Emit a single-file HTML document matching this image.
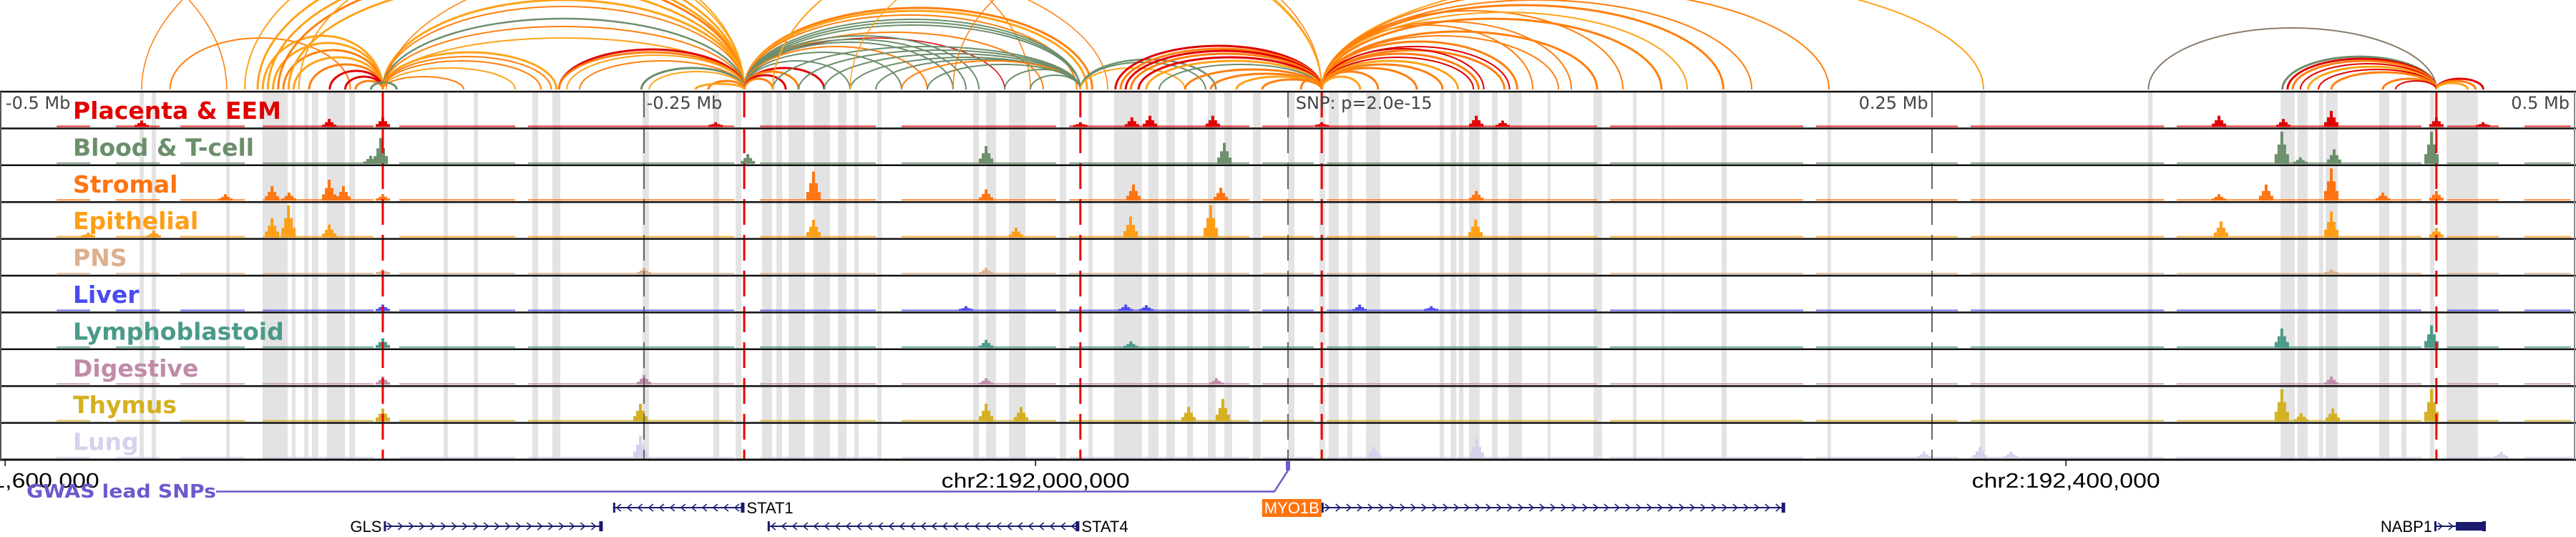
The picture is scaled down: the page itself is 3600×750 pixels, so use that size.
<!DOCTYPE html>
<html><head><meta charset="utf-8">
<style>
html,body{margin:0;padding:0;background:#fff;}
svg{display:block;}
</style></head>
<body>
<svg id="chart" width="3600" height="750" viewBox="0 0 3600 750" xmlns="http://www.w3.org/2000/svg">
<defs><clipPath id="arcClip"><rect x="0" y="0" width="3600" height="126"/></clipPath></defs>
<g id="arcs" clip-path="url(#arcClip)"></g>
<g id="bands"></g>
<g id="tracks"></g>
<g id="markers"></g>
<g id="frame"></g>
<g id="toplabels"></g>
<g id="bottom"></g>
<g id="genes"></g>
</svg>
<script>
// ---- data (kb relative to lead SNP) ----
const trackNames = ["Placenta & EEM","Blood & T-cell","Stromal","Epithelial","PNS","Liver","Lymphoblastoid","Digestive","Thymus","Lung"];
const trackColors = ["#e00000","#6b8e6b","#ff7410","#ff9e14","#dcb08e","#4b4bef","#4a9a8a","#c08ba8","#d4b020","#d8d0ec"];
const peaksPlacenta = [[-445,.2],[-372.2,.25],[-351.4,.3],[-222.2,.15],[-80.6,.15],[-60.6,.3],[-53.6,.35],[-29.2,.35],[13.1,.15],[73.1,.35],[83.3,.2],[361.4,.35],[386.4,.25],[405,.5],[445.8,.3],[463.9,.15]];
const peaksBlood = [[-356.1,.25],[-352.2,.8],[-209.7,.3],[-117.2,.55],[-24.7,.65],[385.8,1.0],[393,.2],[406.1,.45],[443.9,1.0]];
const peaksStromal = [[-412.5,.2],[-394.4,.45],[-387.8,.25],[-372.2,.65],[-366.7,.45],[-351.4,.2],[-184.2,.9],[-117.2,.35],[-60,.5],[-26.1,.4],[73.1,.3],[361.4,.2],[379.7,.5],[405,1.0],[425,.25],[445.8,.3]];
const peaksEpithelial = [[-465.8,.15],[-440.3,.2],[-394.4,.6],[-388,1.0],[-372.2,.4],[-184.2,.55],[-105.6,.3],[-61.1,.65],[-30,1.0],[72.8,.55],[362.2,.5],[405,.8],[445.8,.3]];
const peaksPNS = [[-351.4,.15],[-250,.2],[-117.2,.2],[405,.15]];
const peaksLiver = [[-351.4,.2],[-125,.15],[-63,.2],[-55,.18],[27.8,.2],[55.6,.15]];
const peaksLympho = [[-351.4,.3],[-117.2,.25],[-61,.2],[385.8,.6],[443.9,.7]];
const peaksDigestive = [[-351.4,.25],[-250,.3],[-117.2,.2],[-27.8,.2],[405,.25]];
const peaksThymus = [[-351.4,.4],[-251.4,.55],[-117.2,.55],[-103.6,.45],[-38.6,.45],[-25.3,.7],[385.8,1.0],[393.3,.25],[405.6,.4],[443.9,1.0]];
const peaksLung = [[-251.4,.7],[33.3,.35],[73.3,.6],[247,.2],[268.6,.35],[280.6,.2],[471,.2]];
const baseSegs = [[-478,-465],[-455,-438],[-430,-405],[-398,-355],[-345,-300],[-295,-215],[-205,-160],[-150,-90],[-85,-15],[-10,10],[15,120],[125,200],[205,260],[265,340],[345,440],[450,470],[480,498]];
const bandKb = [[-445.8,-444.2],[-441.1,-439.4],[-412.2,-410.8],[-398.1,-388.3],[-386.7,-385.3],[-381.9,-380.3],[-378.9,-376.4],[-373.1,-366.1],[-364.4,-362.2],[-327.8,-326.1],[-316.1,-314.4],[-293.3,-291.1],[-285.6,-282.5],[-250.6,-248.1],[-223.1,-220.8],[-214.4,-212.2],[-204.2,-200.3],[-198.6,-196.4],[-193.9,-187.5],[-184.2,-177.8],[-174.7,-171.4],[-168.3,-166.7],[-159.4,-157.8],[-122.2,-120],[-117.2,-113.3],[-108.3,-101.9],[-88.6,-86.1],[-77.5,-75.8],[-67.5,-56.7],[-54.2,-50.3],[-47.2,-43.9],[-39.2,-36.9],[-31.1,-28.1],[-24.7,-21.7],[-13.6,-10.6],[0,2.5],[12.2,14.4],[15.8,19.7],[23.1,25],[30.3,35.8],[58.9,60.6],[63.1,65.3],[66.4,68.1],[70.3,74.4],[79.2,81.4],[85.6,90.8],[100.8,101.9],[118.6,121.9],[133.9,135.3],[145,146.1],[168.3,170.3],[209.4,210.8],[268.6,270.6],[333.9,335.6],[385.3,390.8],[391.9,395.8],[400.3,401.9],[402.8,407.5],[423.6,427.5],[432.2,434.2],[443.3,445],[449.7,461.9]];
const leadSnpKb = [-351.4,-211.1,-80.6,13.1,445.8];
const distTicksKb = [-250,0,250];
const A=-351.4,B=-211.1,C=-80.6,D=13.1,E=445.8;
const arcsData = [
[-445,-100,300,'o',1.5],[-650,-412,260,'o',1.5],[-434,-364,72,'o',2],
[-398,A,75,'lo',3],[-394,A,65,'lo',3],[-390,A,55,'o',3],[-386,A,45,'lo',3],[-380,A,35,'o',3],[-372,A,26,'r',3],[-366,A,18,'r',3],[-362,A,12,'o',3],
[-400,B,190,'lo',3],[-396,B,175,'lo',3],[-392,B,165,'o',3],[-388,B,150,'lo',3],[-384,B,200,'lo',2],[-405,B,220,'lo',2],
[A,B,125,'lo',3],[A,B,116,'o',2],[A,B,99,'g',2.5],[A,B,88,'o',2],[A,B,72,'lo',2],
[A,-284,52,'lo',3],[A,-286,46,'o',2],[A,-290,40,'o',2],[A,-300,30,'lo',2],[A,-320,18,'o',2],
[-283,B,56,'r',3],[-283,B,52,'o',3],[-280,B,48,'lo',2],[-275,B,40,'o',2],
[-356,-346,10,'g',3],[-251,B,30,'g',3],[-248,B,25,'lo',2],
[B,-76,114,'o',3],[B,-78,110,'lo',3],[B,-82,104,'o',2],[B,C,98,'g',2],[B,C,94,'g',2],[B,C,90,'g',2],[B,-95,80,'o',2],[B,-110,72,'r',1.5],[B,-120,75,'g',2],[B,-125,70,'g',2],[B,-130,66,'g',2],[B,-140,60,'o',2],[B,-150,52,'g',2],[B,-170,40,'g',2],[B,-180,30,'r',3],[B,-190,25,'o',3],[B,-195,20,'r',3],[B,-200,15,'o',3],[-225,B,12,'o',3],[-230,B,8,'lo',3],
[-200,C,60,'g',2],[-190,C,55,'g',2],[-180,C,50,'g',2],[-170,C,45,'g',2],[-160,C,42,'g',2],[-150,C,40,'o',2],[-140,C,35,'g',2],[-110,C,28,'g',2],[-100,C,20,'g',2],
[-350,-70,200,'o',1.5],
[C,-28,42,'g',2.5],[C,-32,38,'g',2],[C,-40,30,'lo',2],
[-67,D,61,'r',3],[-65,D,57,'o',3],[-63,D,54,'r',3],[-61,D,50,'o',3],[-58,D,45,'r',3],[-55,D,40,'lo',3],[-50,D,35,'g',2],[-40,D,28,'o',3],[-30,D,22,'o',3],[-20,D,18,'lo',3],[-10,D,14,'o',3],
[-200,D,220,'lo',2],[-130,D,200,'o',1.5],[-170,D,210,'lo',1.5],
[D,169,118,'o',3],[D,145,99,'o',3],[D,120,81,'o',3],[D,105,75,'o',2],[D,89,67,'o',3],[D,86,60,'r',2],[D,84,55,'o',3],[D,76,57,'r',2],[D,74,50,'o',3],[D,72,45,'r',2],[D,66,40,'lo',3],[D,60,35,'o',3],[D,50,30,'o',3],[D,35,25,'o',3],[D,28,18,'lo',3],[D,210,140,'o',2],[D,270,160,'lo',2],[D,95,90,'o',2],[D,110,95,'o',2],[D,130,110,'o',2],[D,155,108,'lo',2],[D,180,125,'o',2],
[5,D,15,'o',3],
[334,E,86,'b',2],[386,E,46,'g',3],[388,E,43,'r',3],[390,E,40,'o',3],[393,E,36,'r',2],[396,E,32,'lo',3],[400,E,28,'r',2],[405,E,24,'o',3],[425,E,15,'o',3],[430,E,12,'r',2],[E,464,15,'r',3],[E,461,12,'o',3],[E,458,9,'lo',3]
];
const genomicTicks = [191600000,192000000,192400000];
const genomicTickLabels = ["chr2:191,600,000","chr2:192,000,000","chr2:192,400,000"];
const snpGenomicPos = 192098000;
const genes = [
 {name:"STAT1", start:-262, end:-211, strand:-1, row:0, labelSide:"right"},
 {name:"GLS", start:-351, end:-266, strand:1, row:1, labelSide:"left"},
 {name:"STAT4", start:-202, end:-81, strand:-1, row:1, labelSide:"right"},
 {name:"MYO1B", start:13, end:193, strand:1, row:0, labelSide:"box"},
 {name:"NABP1", start:445, end:465, strand:1, row:1, labelSide:"left"}
];

// ---- scales ----
const NS="http://www.w3.org/2000/svg";
const xScale = kb => 1800 + kb*3.6;
const gScale = pos => xScale((pos - snpGenomicPos)/1000);
const TOP=128, TH=51.4, NT=10, BOTTOM=TOP+TH*NT;
const arcBase=125;
const colorMap={o:"#ff7f0e",lo:"#ffa31a",r:"#e00000",g:"#6b8e6b",b:"#8b7d6b"};
function mk(tag, attrs, parent){const e=document.createElementNS(NS,tag);for(const k in attrs)e.setAttribute(k,attrs[k]);parent.appendChild(e);return e;}

// arcs
const gArcs=document.getElementById('arcs');
arcsData.forEach(a=>{
  const x1=xScale(a[0]), x2=xScale(a[1]);
  const rx=(x2-x1)/2;
  const p=mk('path',{d:`M${x1},${arcBase} A${rx},${a[2]} 0 0 1 ${x2},${arcBase}`,fill:'none',stroke:colorMap[a[3]],'stroke-width':a[4]},gArcs);
  
  
});

// bands
const gBands=document.getElementById('bands');
bandKb.forEach(b=>{
  const r=mk('rect',{x:xScale(b[0]),y:TOP,width:Math.max(2,xScale(b[1])-xScale(b[0])),height:BOTTOM-TOP,fill:'#e3e3e3'},gBands);
  
  
});

// tracks
const gTracks=document.getElementById('tracks');
const allPeaks=[peaksPlacenta,peaksBlood,peaksStromal,peaksEpithelial,peaksPNS,peaksLiver,peaksLympho,peaksDigestive,peaksThymus,peaksLung];
const shape=[0.3,0.6,1,0.6,0.3];
trackNames.forEach((name,i)=>{
  const top=TOP+i*TH, base=top+TH-2, col=trackColors[i], maxH=45;
  const g=mk('g',{},gTracks);
  
  
  baseSegs.forEach(s=>{
    const r=mk('rect',{x:xScale(s[0]),y:base-2,width:xScale(s[1])-xScale(s[0]),height:2,fill:col,opacity:0.8},g);
    
    
  });
  allPeaks[i].forEach(p=>{
    shape.forEach((f,k)=>{
      const h=Math.max(3,p[1]*maxH*f);
      const r=mk('rect',{x:xScale(p[0])+(k-2)*4-2,y:base-h,width:4,height:h,fill:col},g);
      
      
    });
  });
  const t=mk('text',{x:102,y:top+38,fill:col,'font-family':'"DejaVu Sans", "Liberation Sans", sans-serif','font-weight':'bold','font-size':33},g);
  t.textContent=name;
  
  
});

// marker lines
const gM=document.getElementById('markers');
leadSnpKb.forEach(k=>{
  const l=mk('line',{x1:xScale(k),x2:xScale(k),y1:TOP,y2:BOTTOM,stroke:'#ee0000','stroke-width':3,'stroke-dasharray':'36 14'},gM);
  
  
});
distTicksKb.forEach(k=>{
  const l=mk('line',{x1:xScale(k),x2:xScale(k),y1:TOP,y2:BOTTOM,stroke:'#666','stroke-width':2,'stroke-dasharray':'36 14'},gM);
  
  
});

// frame
const gF=document.getElementById('frame');
for(let i=0;i<=NT;i++){
  const y=TOP+i*TH;
  const l=mk('line',{x1:0,x2:3600,y1:y,y2:y,stroke:'#111','stroke-width':i==NT?3:2.5},gF);
  
  
}
mk('line',{x1:1,x2:1,y1:TOP,y2:BOTTOM,stroke:'#555','stroke-width':2},gF);
mk('line',{x1:3598,x2:3598,y1:TOP,y2:BOTTOM,stroke:'#888','stroke-width':2},gF);

// top labels
const gT=document.getElementById('toplabels');
const topLabs=[["-0.5 Mb",-497.8,"start"],["-0.25 Mb",-249,"start"],["SNP: p=2.0e-15",3,"start"],["0.25 Mb",248.5,"end"],["0.5 Mb",497.5,"end"]];
topLabs.forEach(t=>{
  const e=mk('text',{x:xScale(t[1]),y:152,'text-anchor':t[2],fill:'#444','font-family':'"DejaVu Sans", "Liberation Sans", sans-serif','font-size':24},gT);
  e.textContent=t[0];
  
  
});

// bottom axis
const gB=document.getElementById('bottom');
genomicTicks.forEach((p,i)=>{
  const x=gScale(p);
  mk('line',{x1:x,x2:x,y1:BOTTOM,y2:BOTTOM+9,stroke:'#111','stroke-width':1.5},gB);
  const t=mk('text',{x:x,y:681,'text-anchor':'middle','font-family':'"Liberation Sans", sans-serif','font-size':29,fill:'#000',textLength:263,lengthAdjust:'spacingAndGlyphs'},gB);
  t.textContent=genomicTickLabels[i];
  
  
});

// GWAS track
const gG=document.getElementById('genes');
const gw=mk('text',{x:37,y:695,'font-family':'"DejaVu Sans", "Liberation Sans", sans-serif','font-weight':'bold','font-size':26,fill:'#6a5acd',textLength:265,lengthAdjust:'spacingAndGlyphs'},gG);
gw.textContent="GWAS lead SNPs";


const sx=gScale(snpGenomicPos);
const gl=mk('polyline',{points:`302,686.5 ${sx-19},686.5 ${sx},657`,fill:'none',stroke:'#6a5acd','stroke-width':2.5},gG);


const sm=mk('rect',{x:sx-3,y:644,width:6,height:13,fill:'#6a5acd'},gG);



// genes
const rowY=[709,735];
genes.forEach(gn=>{
  const g=mk('g',{},gG);
  
  
  const x1=xScale(gn.start), x2=xScale(gn.end), y=rowY[gn.row];
  mk('line',{x1:x1,x2:x2,y1:y,y2:y,stroke:'#1a1a6e','stroke-width':2},g);
  for(let x=x1+8;x<x2-6;x+=15){
    const d=gn.strand>0?`M${x-3},${y-5} L${x+3},${y} L${x-3},${y+5}`:`M${x+3},${y-5} L${x-3},${y} L${x+3},${y+5}`;
    mk('path',{d:d,fill:'none',stroke:'#1a1a6e','stroke-width':1.5},g);
  }
  mk('rect',{x:x1,y:y-7,width:3,height:14,fill:'#1a1a6e'},g);
  mk('rect',{x:x2-5,y:y-7,width:5,height:14,fill:'#1a1a6e'},g);
  if(gn.name==="NABP1") mk('rect',{x:x2-42,y:y-6,width:42,height:12,fill:'#1a1a6e'},g);
  let t;
  if(gn.labelSide==="box"){
    mk('rect',{x:x1-83,y:y-12,width:83,height:25,fill:'#ff7410'},g);
    t=mk('text',{x:x1-41.5,y:y+8,'text-anchor':'middle','font-family':'"Liberation Sans", sans-serif','font-size':22,fill:'#fff'},g);
  } else if(gn.labelSide==="left"){
    t=mk('text',{x:x1-3,y:y+8,'text-anchor':'end','font-family':'"Liberation Sans", sans-serif','font-size':22,fill:'#000'},g);
  } else {
    t=mk('text',{x:x2+3,y:y+8,'text-anchor':'start','font-family':'"Liberation Sans", sans-serif','font-size':22,fill:'#000'},g);
  }
  t.textContent=gn.name;
  
  
});
</script>
</body></html>
